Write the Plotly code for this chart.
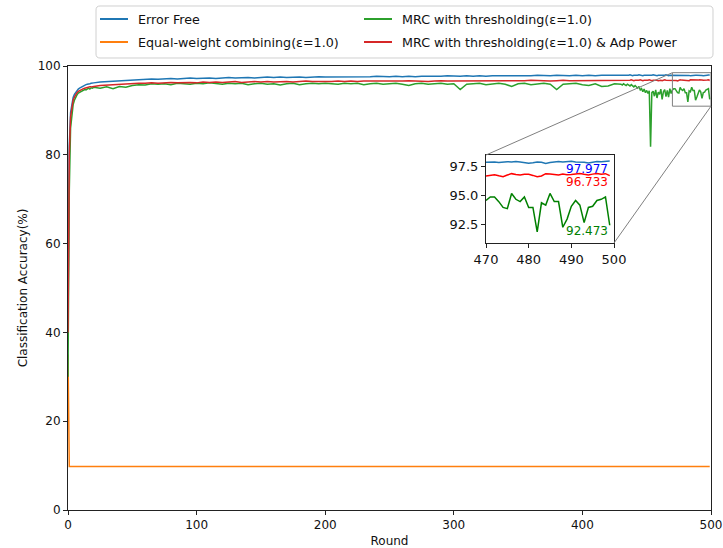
import plotly.graph_objects as go

# ---------------- data ----------------
rounds = list(range(0, 21)) + list(range(25, 426, 5)) + list(range(430, 500))

acc_error_free = [
    45.0, 82.0, 89.5, 91.8, 92.9, 93.6, 94.1, 94.5, 94.8, 95.0, 95.2, 95.4, 95.5, 95.6, 95.8, 95.9, 95.9, 96.0, 96.1, 96.1, 96.2,
    96.4, 96.5, 96.6, 96.7, 96.8, 96.9, 97.0, 97.0, 97.1, 97.0, 97.1, 97.2, 97.1, 97.2, 97.3, 97.2,
    97.3, 97.3, 97.2, 97.3, 97.4, 97.3, 97.4, 97.4, 97.3, 97.4, 97.5, 97.4, 97.5, 97.4, 97.5, 97.5, 97.4, 97.5, 97.6, 97.5,
    97.5, 97.6, 97.5, 97.6, 97.6, 97.5, 97.6, 97.7, 97.6, 97.6, 97.7, 97.6, 97.7, 97.6, 97.7, 97.7, 97.6, 97.7, 97.8, 97.7,
    97.7, 97.8, 97.7, 97.8, 97.7, 97.8, 97.8, 97.7, 97.8, 97.8, 97.7, 97.8, 97.9, 97.8, 97.8, 97.9, 97.8, 97.8, 97.9, 97.8,
    97.9, 97.8, 97.9, 97.9, 97.8,
    97.9, 97.8, 97.9, 97.9, 97.8, 97.9, 97.9, 98.0, 97.9, 97.8,
    97.9, 97.9, 97.8, 97.9, 98.0, 97.9, 97.9, 97.8, 97.9, 97.9,
    97.8, 97.9, 97.9, 97.8, 97.9, 98.0, 97.9, 97.9, 97.8, 97.9,
    97.9, 97.9, 97.8, 97.9, 97.9, 98.0, 97.9, 97.8, 97.9, 97.9,
    97.88, 97.92, 97.90, 97.86, 97.90, 97.93, 97.91, 97.95, 97.90, 97.82,
    97.80, 97.84, 97.90, 97.88, 97.78, 97.85, 97.92, 97.94, 97.90, 97.93,
    97.96, 97.90, 97.92, 97.88, 97.82, 97.90, 97.95, 97.93, 97.96, 97.977,
]

acc_mrc = [
    30.0, 72.0, 86.0, 89.5, 91.3, 92.3, 93.0, 93.5, 93.9, 94.1, 94.3, 94.4, 94.6, 94.7, 94.6, 94.9, 95.0, 94.8, 95.1, 95.0, 95.2,
    95.0, 95.3, 94.9, 95.4, 95.2, 95.6, 95.8, 95.7, 96.0, 95.9, 96.0, 95.8, 96.1, 96.0, 95.9, 96.1,
    96.0, 96.2, 96.0, 95.9, 96.1, 96.0, 96.1, 95.8, 96.0, 96.1, 95.9, 96.0, 95.7, 96.0, 96.1, 95.8, 96.0, 96.1, 96.0, 96.1,
    96.0, 95.9, 96.1, 96.0, 96.1, 95.8, 96.0, 96.1, 95.9, 96.0, 96.1, 95.9, 95.6, 96.0, 96.1, 95.9, 96.0, 96.1, 95.9, 96.0,
    94.7, 95.9, 96.0, 96.1, 95.8, 96.0, 96.1, 95.9, 95.4, 96.0, 96.1, 95.8, 96.0, 96.1, 95.9, 94.7, 95.9, 96.0, 96.1, 95.8,
    95.6, 96.0, 95.4, 95.5, 96.0,
    95.9, 95.7, 96.0, 95.8, 95.6, 95.9, 95.7, 95.5, 95.8, 95.6,
    95.3, 95.6, 95.2, 95.0, 95.4, 94.6, 94.9, 94.2, 94.8, 94.0,
    94.5, 93.8, 94.4, 81.8, 94.0, 94.3, 93.2, 94.6, 92.8, 94.1,
    93.6, 94.8, 92.5, 94.2, 94.7, 93.1, 94.5, 93.0, 94.9, 93.8,
    94.6, 94.9, 94.9, 94.5, 94.0, 93.9, 95.2, 94.7, 94.5, 94.9,
    94.0, 94.0, 91.9, 94.4, 94.2, 95.2, 94.5, 94.5, 92.3, 93.0,
    94.1, 94.6, 94.2, 92.7, 94.0, 94.1, 94.6, 94.7, 94.9, 92.473,
]

acc_mrc_adp = [
    40.0, 80.0, 88.5, 91.0, 92.3, 93.0, 93.6, 94.0, 94.3, 94.5, 94.7, 94.8, 94.9, 95.0, 95.1, 95.2, 95.2, 95.3, 95.3, 95.4, 95.4,
    95.6, 95.7, 95.8, 95.9, 95.9, 96.0, 96.1, 96.1, 96.2, 96.1, 96.2, 96.3, 96.2, 96.3, 96.3, 96.2,
    96.4, 96.3, 96.4, 96.3, 96.4, 96.5, 96.3, 96.4, 96.5, 96.4, 96.5, 96.4, 96.5, 96.5, 96.4, 96.5, 96.6, 96.5, 96.5, 96.4,
    96.5, 96.6, 96.5, 96.6, 96.5, 96.6, 96.6, 96.5, 96.6, 96.6, 96.5, 96.6, 96.7, 96.6, 96.6, 96.5, 96.6, 96.7, 96.6, 96.6,
    96.7, 96.6, 96.7, 96.6, 96.7, 96.7, 96.6, 96.7, 96.7, 96.6, 96.7, 96.8, 96.7, 96.7, 96.6, 96.7, 96.8, 96.7, 96.7, 96.8,
    96.7, 96.7, 96.8, 96.7, 96.8,
    96.8, 96.7, 96.8, 96.7, 96.8, 96.8, 96.7, 96.8, 96.9, 96.8,
    96.7, 96.8, 96.8, 96.7, 96.8, 96.9, 96.8, 96.7, 96.8, 96.8,
    96.7, 96.8, 96.9, 96.8, 96.7, 96.8, 96.8, 96.9, 96.8, 96.7,
    96.8, 96.8, 96.7, 96.8, 96.9, 96.8, 96.8, 96.7, 96.8, 96.8,
    96.70, 96.75, 96.81, 96.72, 96.64, 96.78, 96.90, 96.82, 96.79, 96.85,
    96.84, 96.75, 96.64, 96.70, 96.90, 96.86, 96.81, 96.78, 96.86, 96.80,
    96.82, 96.88, 96.92, 96.84, 96.78, 96.86, 96.92, 96.85, 96.90, 96.733,
]

equal_rounds = [0, 1, 100, 200, 300, 400, 499]
acc_equal = [35.0, 9.8, 9.8, 9.8, 9.8, 9.8, 9.8]

series_names = [
    "Error Free",
    "Equal-weight combining(ε=1.0)",
    "MRC with thresholding(ε=1.0)",
    "MRC with thresholding(ε=1.0) & Adp Power",
]

for s in (acc_error_free, acc_mrc, acc_mrc_adp):
    assert len(s) == len(rounds), len(s)

x_ticks = [0, 100, 200, 300, 400, 500]
y_ticks = [0, 20, 40, 60, 80, 100]
inset_x_ticks = [470, 480, 490, 500]
inset_y_ticks = [92.5, 95.0, 97.5]

# ---------------- style ----------------
FONT = "DejaVu Sans"
C_BLUE, C_ORANGE, C_GREEN, C_RED = "#1f77b4", "#ff7f0e", "#2ca02c", "#d62728"
W, H = 723, 548
ML, MR, MT, MB = 68, 12, 66, 38
PW, PH = W - ML - MR, H - MT - MB

X_RANGE = [0, 500]
Y_RANGE = [0, 100]
IN_X_RANGE = [470, 500]
IN_Y_RANGE = [90.95, 98.5]
IN_XDOM = [(486 - ML) / PW, (614 - ML) / PW]
IN_YDOM = [(H - MB - 243) / PH, (H - MB - 155) / PH]


def px2paper(px, py):
    return (px - ML) / PW, (H - MB - py) / PH


def to_paper(xv, yv, xr, yr, xd=(0, 1), yd=(0, 1)):
    px = xd[0] + (xv - xr[0]) / (xr[1] - xr[0]) * (xd[1] - xd[0])
    py = yd[0] + (yv - yr[0]) / (yr[1] - yr[0]) * (yd[1] - yd[0])
    return px, py


fig = go.Figure()

fig.add_trace(go.Scatter(x=rounds, y=acc_error_free, mode="lines", name=series_names[0],
                         line=dict(color=C_BLUE, width=1.5)))
fig.add_trace(go.Scatter(x=equal_rounds, y=acc_equal, mode="lines", name=series_names[1],
                         line=dict(color=C_ORANGE, width=1.5)))
fig.add_trace(go.Scatter(x=rounds, y=acc_mrc, mode="lines", name=series_names[2],
                         line=dict(color=C_GREEN, width=1.5)))
fig.add_trace(go.Scatter(x=rounds, y=acc_mrc_adp, mode="lines", name=series_names[3],
                         line=dict(color=C_RED, width=1.5)))

# inset traces
idx = [i for i, r in enumerate(rounds) if r >= IN_X_RANGE[0]]
ins_x = [rounds[i] for i in idx]
for series, col in ((acc_error_free, C_BLUE), (acc_mrc_adp, "#ff0000"), (acc_mrc, "#008000")):
    fig.add_trace(go.Scatter(x=ins_x, y=[series[i] for i in idx], mode="lines", showlegend=False,
                             line=dict(color=col, width=1.5), xaxis="x2", yaxis="y2", hoverinfo="skip"))

# inset value labels
for series, col, ytxt in ((acc_error_free, "#0000ff", 97.26), (acc_mrc_adp, "#ff0000", 96.18),
                          (acc_mrc, "#008000", 92.02)):
    fig.add_annotation(x=488.6, y=ytxt, xref="x2", yref="y2", text=f"{series[-1]:.3f}",
                       showarrow=False, xanchor="left", yanchor="middle", borderpad=0,
                       font=dict(family=FONT, size=12, color=col))

GRAY = "#808080"
fig.add_shape(type="rect", xref="x", yref="y", x0=IN_X_RANGE[0], x1=IN_X_RANGE[1],
              y0=IN_Y_RANGE[0], y1=IN_Y_RANGE[1], line=dict(color=GRAY, width=1))
a = to_paper(IN_X_RANGE[0], IN_Y_RANGE[1], X_RANGE, Y_RANGE)
b = (IN_XDOM[0], IN_YDOM[1])
fig.add_shape(type="line", xref="paper", yref="paper", x0=a[0], y0=a[1], x1=b[0], y1=b[1],
              line=dict(color=GRAY, width=1))
a = to_paper(IN_X_RANGE[1], IN_Y_RANGE[0], X_RANGE, Y_RANGE)
b = (IN_XDOM[1], IN_YDOM[0])
fig.add_shape(type="line", xref="paper", yref="paper", x0=a[0], y0=a[1], x1=b[0], y1=b[1],
              line=dict(color=GRAY, width=1))

# ---------------- legend (drawn box, two columns) ----------------
LBOX = (96, 6, 713, 58)  # left, top, right, bottom in px
r = 4
x0, y0 = LBOX[0], LBOX[1]
x1, y1 = LBOX[2], LBOX[3]


def P(px, py):
    u, v = px2paper(px, py)
    return f"{u:.5f},{v:.5f}"


path = (f"M {P(x0 + r, y0)} L {P(x1 - r, y0)} Q {P(x1, y0)} {P(x1, y0 + r)} "
        f"L {P(x1, y1 - r)} Q {P(x1, y1)} {P(x1 - r, y1)} L {P(x0 + r, y1)} "
        f"Q {P(x0, y1)} {P(x0, y1 - r)} L {P(x0, y0 + r)} Q {P(x0, y0)} {P(x0 + r, y0)} Z")
fig.add_shape(type="path", xref="paper", yref="paper", path=path,
              line=dict(color="#d0d0d0", width=1), fillcolor="white", layer="above")

legend_items = [
    (series_names[0], C_BLUE, 100, 19),
    (series_names[1], C_ORANGE, 100, 42),
    (series_names[2], C_GREEN, 364, 19),
    (series_names[3], C_RED, 364, 42),
]
for name, col, sx, sy in legend_items:
    ua, va = px2paper(sx, sy)
    ub, _ = px2paper(sx + 28, sy)
    fig.add_shape(type="line", xref="paper", yref="paper", x0=ua, y0=va, x1=ub, y1=va,
                  line=dict(color=col, width=2), layer="above")
    ut, vt = px2paper(sx + 37, sy)
    fig.add_annotation(x=ut, y=vt, xref="paper", yref="paper", text=name, showarrow=False,
                       xanchor="left", yanchor="middle", borderpad=0,
                       font=dict(family=FONT, size=12.7, color="#111"))

axis_common = dict(showgrid=False, zeroline=False, showline=True, mirror=True, linecolor="#222",
                   linewidth=1, ticks="outside", ticklen=4, tickcolor="#222",
                   tickfont=dict(family=FONT, size=12, color="#111"))

fig.update_layout(
    width=W, height=H,
    margin=dict(l=ML, r=MR, t=MT, b=MB, autoexpand=False),
    paper_bgcolor="white", plot_bgcolor="white",
    font=dict(family=FONT, size=12, color="#111"),
    showlegend=False,
    xaxis=dict(range=X_RANGE, tickvals=x_ticks, title=dict(text="Round", standoff=6,
               font=dict(family=FONT, size=12)), **axis_common),
    yaxis=dict(range=Y_RANGE, tickvals=y_ticks, title=dict(text="Classification Accuracy(%)", standoff=7,
               font=dict(family=FONT, size=12)), **axis_common),
    xaxis2=dict(domain=IN_XDOM, anchor="y2", range=IN_X_RANGE, tickvals=inset_x_ticks,
                **{**axis_common, "tickfont": dict(family=FONT, size=13, color="#111")}),
    yaxis2=dict(domain=IN_YDOM, anchor="x2", range=IN_Y_RANGE, tickvals=inset_y_ticks, tickformat=".1f",
                **{**axis_common, "tickfont": dict(family=FONT, size=13, color="#111")}),
)

fig.write_html("out.html")
